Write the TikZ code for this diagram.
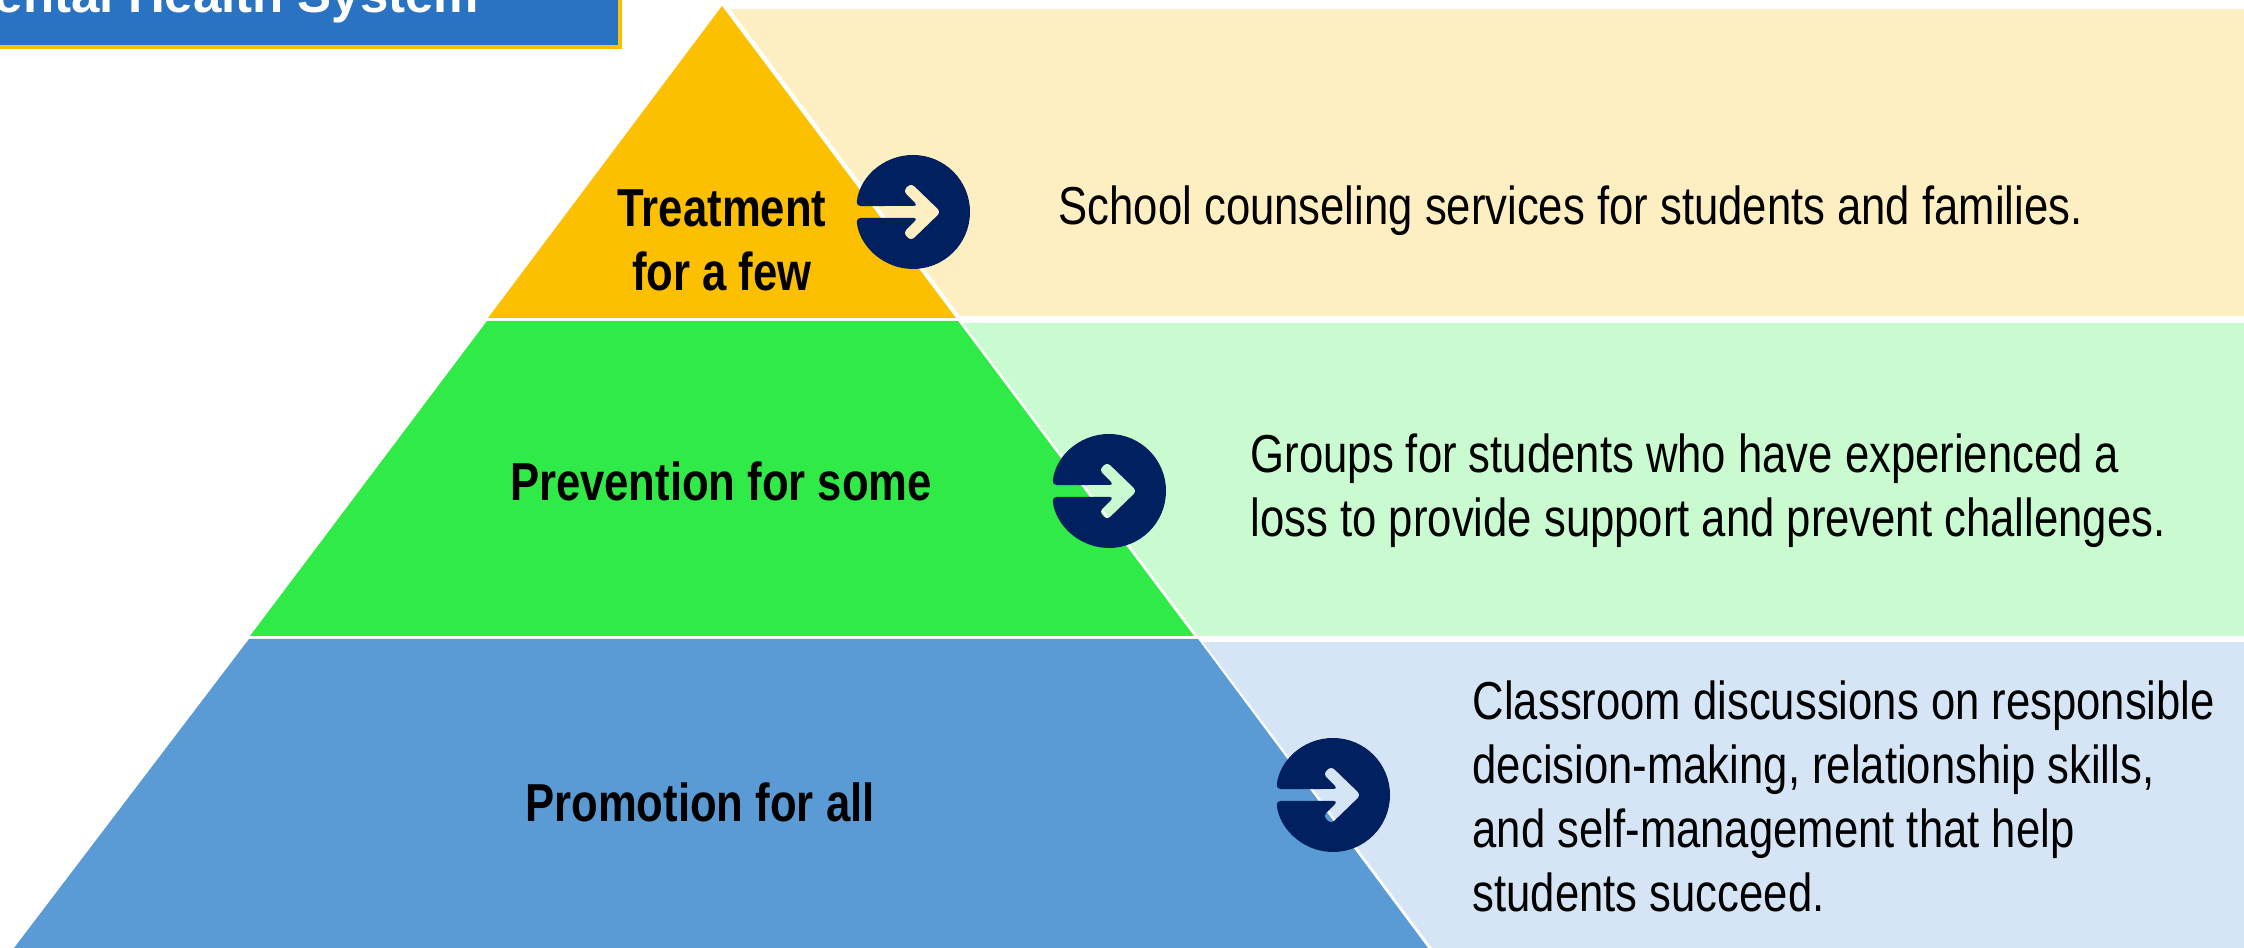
\documentclass[tikz,border=0pt]{standalone}
\usepackage{fontspec}
\setmainfont[FakeStretch=0.817]{Liberation Sans}
\newfontfamily\titlefont{Liberation Sans}
\definecolor{topgold}{HTML}{FCC000}
\definecolor{topgoldpale}{HTML}{FDEFC2}
\definecolor{midgreen}{HTML}{30EB47}
\definecolor{midgreenpale}{HTML}{CAFACF}
\definecolor{lowblue}{HTML}{5B9BD5}
\definecolor{lowbluepale}{HTML}{D5E5F5}
\definecolor{iconnavy}{HTML}{002060}
\definecolor{titleblue}{HTML}{2A72C2}
\tikzset{
  tierlabel/.style={align=center, inner sep=0, font=\fontsize{15.2}{18.2}\selectfont\bfseries},
  sidetext/.style={right, align=left, inner sep=0, font=\fontsize{15.2}{18.2}\selectfont},
  goicon/.pic={
    \fill[iconnavy, rounded corners=1.2pt] (174:0.57) arc[start angle=174, end angle=-174, radius=0.57]
      -- (0.05,-0.06) -- (-0.10,-0.21) -- (-0.02,-0.29) -- (0.28,0) -- (-0.02,0.29) -- (-0.10,0.21) -- (0.05,0.06) -- cycle;
  }
}
\begin{document}
\begin{tikzpicture}
  \useasboundingbox (0,0) rectangle (22.44,9.48);
  \clip (0,0) rectangle (22.44,9.48);
  % side panels
  \fill[topgoldpale] (7.30,9.39) -- (22.44,9.39) -- (22.44,6.32) -- (9.60,6.32) -- cycle;
  \fill[midgreenpale] (9.63,6.25) -- (22.44,6.25) -- (22.44,3.12) -- (11.98,3.12) -- cycle;
  \fill[lowbluepale] (12.03,3.06) -- (22.44,3.06) -- (22.44,0) -- (14.32,0) -- cycle;
  % pyramid
  \fill[topgold] (7.22,9.42) -- (9.56,6.30) -- (4.88,6.30) -- cycle;
  \fill[midgreen] (4.87,6.27) -- (9.58,6.27) -- (11.94,3.12) -- (2.50,3.12) -- cycle;
  \fill[lowblue] (2.49,3.09) -- (11.98,3.09) -- (14.28,0) -- (0.14,0) -- cycle;
  % title bar
  \draw[topgold, line width=1.2pt, fill=titleblue] (-0.2,10) rectangle (6.20,9.01);
  \node[anchor=base east, inner sep=0, text=white, font=\fontsize{14.5}{18}\titlefont\bfseries] (titlebar) at (4.80,9.35) {Mental Health System};
  % arrows
  \pic at (9.13,7.36) {goicon};
  \pic at (11.09,4.57) {goicon};
  \pic at (13.33,1.53) {goicon};
  % tier labels
  \node[tierlabel] (treatment) at (7.22,7.08) {Treatment\\for a few};
  \node[tierlabel] (prevention) at (7.21,4.67) {Prevention for some};
  \node[tierlabel] (promotion) at (7.00,1.46) {Promotion for all};
  % side texts
  \node[sidetext] (counseling) at (10.58,7.37) {School counseling services for students and families.};
  \node[sidetext] (groups) at (12.50,4.575) {Groups for students who have experienced a\\loss to provide support and prevent challenges.};
  \node[sidetext] (classroom) at (14.72,1.515) {Classroom discussions on responsible\\decision-making, relationship skills,\\and self-management that help\\students succeed.};
\end{tikzpicture}
\end{document}
